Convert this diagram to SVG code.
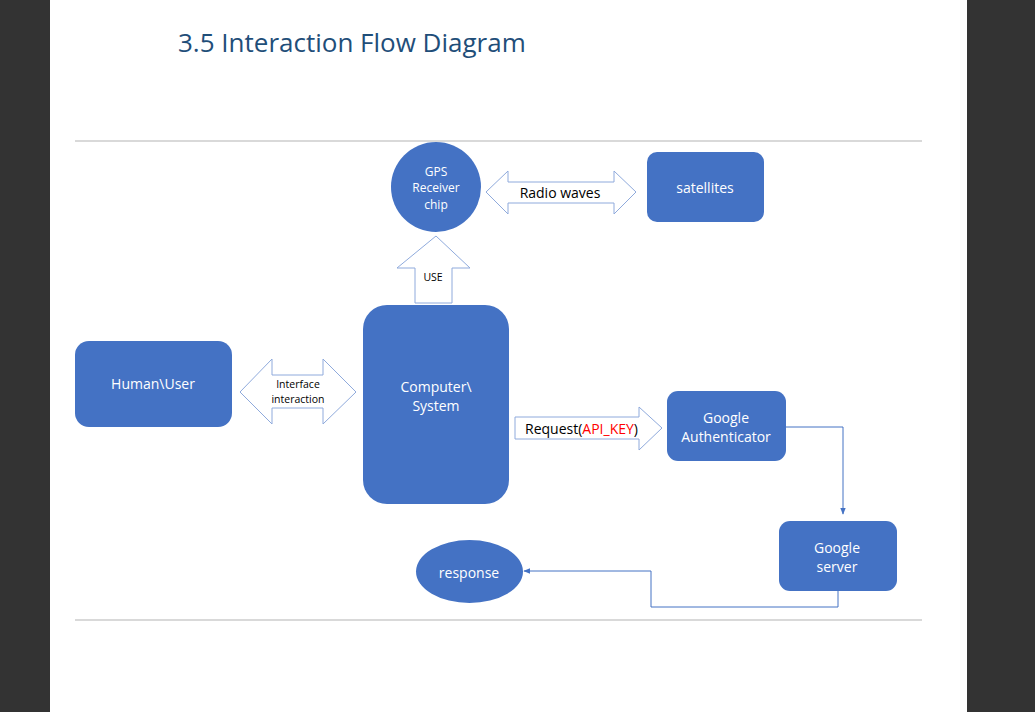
<svg xmlns="http://www.w3.org/2000/svg" width="1035" height="712" viewBox="0 0 1035 712">
<defs>
<style>
.node{fill:#4472C4;}
.wt{fill:#ffffff;font-family:"Open Sans","Liberation Sans",sans-serif;font-size:14px;text-anchor:middle;dominant-baseline:central;}
.bt{fill:#000000;font-family:"Open Sans","Liberation Sans",sans-serif;font-size:14px;text-anchor:middle;dominant-baseline:central;}
.sm{font-size:12px;}
.xs{font-size:10.5px;}
.blk{fill:#ffffff;stroke:#8FAADC;stroke-width:1;}
.con{fill:none;stroke:#4472C4;stroke-width:1;}
.rule{stroke:#D9D9D9;stroke-width:2;}
</style>
<marker id="ah" viewBox="0 0 10 10" refX="9" refY="5" markerWidth="7" markerHeight="7" orient="auto" markerUnits="userSpaceOnUse">
<path d="M0,1 L10,5 L0,9 z" fill="#4472C4"/>
</marker>
</defs>
<rect x="0" y="0" width="1035" height="712" fill="#333333"/>
<rect x="50" y="0" width="917" height="712" fill="#ffffff"/>
<text x="178" y="52" style="font-family:'Open Sans','Liberation Sans',sans-serif;font-size:26px;fill:#1F4E79;">3.5 Interaction Flow Diagram</text>
<line class="rule" x1="75" y1="141" x2="922" y2="141"/>
<line class="rule" x1="75" y1="620" x2="922" y2="620"/>

<g id="connectors">
<polygon id="radio-waves" class="blk" points="486,192 508,171 508,182 614,182 614,171 636,192 614,214 614,203 508,203 508,214"/>
<text class="bt" x="560" y="192">Radio waves</text>
<polygon id="use" class="blk" points="436,236 470,268 452,268 452,303 415,303 415,268 397,268"/>
<text class="bt xs" x="433" y="277">USE</text>
<polygon id="interface" class="blk" points="240,392 272,359 272,375 323,375 323,359 356,392 323,424 323,408 272,408 272,424"/>
<text class="bt xs" x="298" y="384">Interface</text>
<text class="bt xs" x="298" y="399">interaction</text>
<polygon id="request" class="blk" points="515,417 639,417 639,407 662,428 639,450 639,439 515,439"/>
<text class="bt" x="525" y="428" style="text-anchor:start">Request(<tspan fill="#FF0000">API_KEY</tspan>)</text>
<polyline class="con" points="786,427 843,427 843,514" marker-end="url(#ah)"/>
<polyline class="con" points="838,591 838,607 651,607 651,571 524,571" marker-end="url(#ah)"/>
</g>

<g id="gps">
<circle class="node" cx="436" cy="187" r="45"/>
<text class="wt sm" x="436" y="171">GPS</text>
<text class="wt sm" x="436" y="187">Receiver</text>
<text class="wt sm" x="436" y="204">chip</text>
</g>
<g id="satellites">
<rect class="node" x="647" y="152" width="117" height="70" rx="10"/>
<text class="wt" x="705" y="187">satellites</text>
</g>
<g id="human">
<rect class="node" x="75" y="341" width="157" height="86" rx="14"/>
<text class="wt" x="153" y="383">Human\User</text>
</g>
<g id="computer">
<rect class="node" x="363" y="305" width="146" height="199" rx="24"/>
<text class="wt" x="436" y="386">Computer\</text>
<text class="wt" x="436" y="405">System</text>
</g>
<g id="authenticator">
<rect class="node" x="667" y="391" width="119" height="70" rx="11"/>
<text class="wt" x="726" y="417">Google</text>
<text class="wt" x="726" y="436">Authenticator</text>
</g>
<g id="server">
<rect class="node" x="779" y="521" width="118" height="70" rx="11"/>
<text class="wt" x="837" y="547">Google</text>
<text class="wt" x="837" y="566">server</text>
</g>
<g id="response">
<ellipse class="node" cx="469.5" cy="571.5" rx="53.5" ry="31.5"/>
<text class="wt" x="469" y="572">response</text>
</g>
</svg>
